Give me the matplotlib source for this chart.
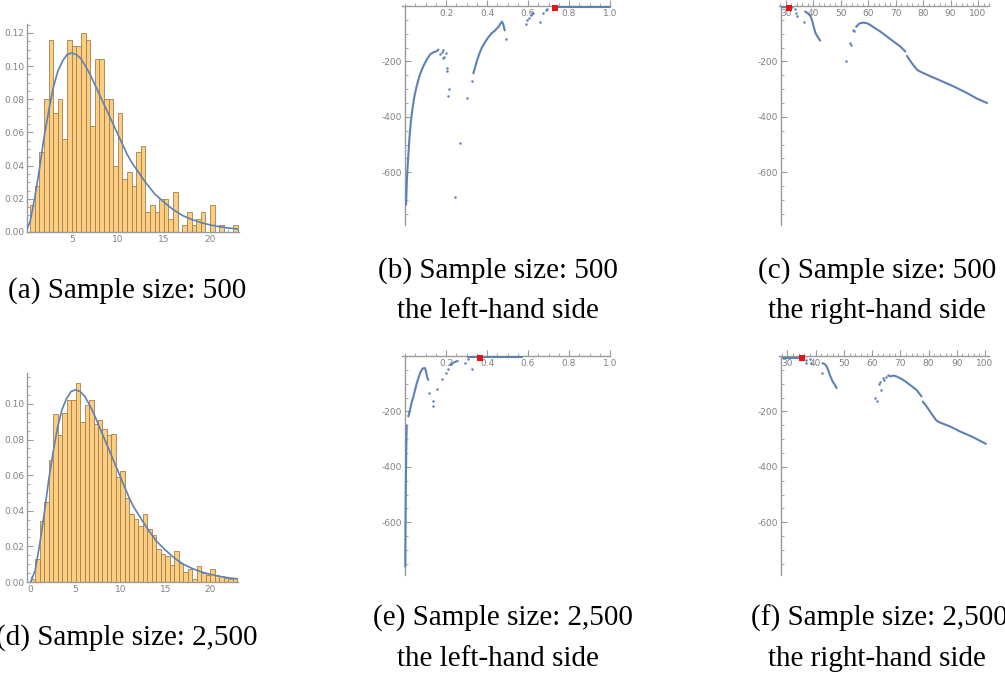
import matplotlib
matplotlib.use("Agg")
import matplotlib.pyplot as plt
from matplotlib.ticker import MultipleLocator

# Histogram densities, bins of width 0.5
bin_width = 0.5
hist500_start = 0.5
hist500 = [0.016, 0.028, 0.048, 0.080, 0.116, 0.072, 0.080, 0.056, 0.116, 0.112,
           0.112, 0.120, 0.116, 0.064, 0.104, 0.104, 0.080, 0.080, 0.040, 0.072,
           0.032, 0.036, 0.028, 0.048, 0.052, 0.012, 0.016, 0.012, 0.020, 0.020,
           0.008, 0.024, 0.000, 0.004, 0.012, 0.004, 0.008, 0.012, 0.000, 0.016,
           0.000, 0.004, 0.000, 0.000, 0.004]
hist2500_start = 0.0
hist2500 = [0.0016, 0.0128, 0.0344, 0.0448, 0.0688, 0.0944, 0.0824, 0.0952, 0.1024, 0.1024,
            0.1120, 0.0896, 0.0992, 0.1020, 0.0888, 0.0910, 0.0860, 0.0824, 0.0830, 0.0592,
            0.0624, 0.0472, 0.0384, 0.0356, 0.0316, 0.0384, 0.0296, 0.0264, 0.0184, 0.0160,
            0.0144, 0.0096, 0.0176, 0.0104, 0.0056, 0.0072, 0.0016, 0.0088, 0.0048, 0.0040,
            0.0072, 0.0040, 0.0032, 0.0024, 0.0016, 0.0024, 0.0024]

# fitted density
pdf_x = [0, 0.5, 1, 1.5, 2, 2.5, 3, 3.5, 4, 4.5, 5, 5.5, 6, 6.5, 7, 7.5, 8, 8.5,
         9, 9.5, 10, 10.5, 11, 11.5, 12, 13, 14, 15, 16, 17, 18, 19, 20, 21, 22, 23]
pdf_y = [0, 0.0065, 0.021, 0.038, 0.057, 0.073, 0.087, 0.097, 0.103, 0.107, 0.108,
         0.107, 0.1045, 0.100, 0.095, 0.089, 0.083, 0.077, 0.071, 0.065, 0.059, 0.053,
         0.047, 0.042, 0.038, 0.030, 0.023, 0.018, 0.0135, 0.010, 0.0076, 0.0057,
         0.0043, 0.0032, 0.0024, 0.0018]

# log-likelihood profiles: dense arcs, isolated points, maximiser
lhs500_arcs = [
    [(0.005, -716), (0.008, -645), (0.011, -597), (0.016, -538), (0.021, -478),
     (0.028, -419), (0.036, -371), (0.046, -324), (0.057, -288), (0.073, -246),
     (0.089, -217), (0.106, -193), (0.122, -175), (0.138, -167), (0.154, -163),
     (0.163, -157)],
    [(0.333, -243), (0.341, -223), (0.350, -199), (0.361, -175), (0.374, -151),
     (0.390, -131), (0.407, -112), (0.423, -98), (0.439, -88), (0.455, -76),
     (0.467, -62), (0.473, -56), (0.480, -68), (0.486, -88)],
    [(0.725, -3), (1.0, -3)],
]
lhs500_dots = [(0.171, -173), (0.179, -167), (0.184, -157), (0.187, -188), (0.192, -183),
               (0.198, -171), (0.203, -223), (0.203, -234), (0.211, -324), (0.215, -300),
               (0.244, -689), (0.268, -494), (0.304, -332), (0.325, -270), (0.493, -118),
               (0.589, -64), (0.593, -52), (0.603, -44), (0.613, -32), (0.620, -26),
               (0.626, -24), (0.659, -56), (0.675, -24), (0.686, -14), (0.691, -12),
               (0.720, -2)]
lhs500_best = (0.732, -7)

rhs500_arcs = [
    [(28.6, -4), (32.5, -6)],
    [(37.0, -20), (37.7, -24), (38.3, -29), (38.9, -36), (39.5, -50), (40.1, -74),
     (40.7, -95), (41.3, -107), (41.9, -116), (42.5, -125)],
    [(56.5, -65), (57.1, -62), (58.3, -60), (59.5, -62), (60.7, -68), (62.0, -77),
     (64.4, -92), (66.8, -110), (69.2, -128), (71.7, -146), (73.5, -164)],
    [(74.1, -180), (75.3, -198), (76.5, -214), (77.8, -230), (79.0, -237), (81.4, -248),
     (86.3, -269), (91.1, -290), (96.0, -314), (99.6, -334), (103.3, -350)],
]
rhs500_dots = [(33.2, -12), (33.6, -26), (34.0, -36), (36.7, -56), (52.0, -200),
               (53.2, -132), (53.7, -140), (54.3, -86), (54.7, -90), (55.5, -71),
               (55.9, -68)]
rhs500_best = (31.0, -9)

lhs2500_arcs = [
    [(0.001, -760), (0.002, -620), (0.004, -450), (0.006, -330), (0.008, -250)],
    [(0.016, -218), (0.024, -194), (0.033, -164), (0.041, -146), (0.049, -122),
     (0.057, -98), (0.065, -80), (0.073, -62), (0.081, -50), (0.089, -44),
     (0.098, -44), (0.102, -56), (0.109, -80), (0.114, -86)],
    [(0.223, -32), (0.236, -24), (0.249, -20), (0.257, -18)],
    [(0.305, -5), (0.570, -5)],
]
lhs2500_dots = [(0.119, -134), (0.135, -182), (0.138, -164), (0.158, -120), (0.182, -82),
                (0.200, -62), (0.211, -48), (0.293, -26), (0.309, -10), (0.325, -48),
                (0.350, -5)]
lhs2500_best = (0.366, -7)

rhs2500_arcs = [
    [(28.5, -9), (35.6, -9)],
    [(42.4, -26), (43.2, -29), (43.8, -36), (44.4, -50), (45.0, -68), (46.0, -92),
     (46.8, -104), (47.4, -116)],
    [(66.3, -74), (66.9, -72), (67.7, -71), (68.7, -74), (71.0, -86), (73.4, -104),
     (75.7, -122), (77.5, -146)],
    [(77.9, -164), (79.3, -182), (81.1, -209), (82.8, -233), (84.0, -240), (87.6, -254),
     (91.1, -272), (95.8, -293), (100.3, -317)],
]
rhs2500_dots = [(36.4, -14), (36.7, -24), (37.9, -12), (38.3, -26), (42.1, -62),
                (61.0, -152), (61.8, -164), (62.5, -102), (62.7, -92), (63.3, -122),
                (63.7, -80), (64.2, -86), (64.9, -74), (65.7, -68)]
rhs2500_best = (35.3, -8)

# tick positions
hist_yticks_500 = [0.00, 0.02, 0.04, 0.06, 0.08, 0.10, 0.12]
hist_yticks_2500 = [0.00, 0.02, 0.04, 0.06, 0.08, 0.10]
hist_xticks_500 = [5, 10, 15, 20]
hist_xticks_2500 = [0, 5, 10, 15, 20]
lhs_xticks = [0.2, 0.4, 0.6, 0.8, 1.0]
rhs_xticks = [30, 40, 50, 60, 70, 80, 90, 100]
loglik_yticks = [-200, -400, -600]

captions = [
    (127, 291, "(a) Sample size: 500"),
    (498, 271, "(b) Sample size: 500"),
    (498, 311, "the left-hand side"),
    (877, 271, "(c) Sample size: 500"),
    (877, 311, "the right-hand side"),
    (127, 638, "(d) Sample size: 2,500"),
    (503, 618, "(e) Sample size: 2,500"),
    (498, 659, "the left-hand side"),
    (879, 618, "(f) Sample size: 2,500"),
    (877, 659, "the right-hand side"),
]

W, H = 1005, 678
BLUE = "#5e81b5"
BAR_FACE = "#fdcd80"
BAR_EDGE = "#a08050"
AXIS_GRAY = "#9a9a9a"
LABEL_GRAY = "#808080"

plt.rcParams['axes.unicode_minus'] = False
plt.rcParams['font.family'] = ['Liberation Sans Narrow', 'DejaVu Sans']

fig = plt.figure(figsize=(W / 100, H / 100), dpi=100)


def px_axes(left, top, right, bottom):
    return fig.add_axes([left / W, 1 - bottom / H, (right - left) / W, (bottom - top) / H])


def style_axes(ax):
    ax.spines['top'].set_visible(False)
    ax.spines['right'].set_visible(False)
    for side in ['left', 'bottom']:
        ax.spines[side].set_color(AXIS_GRAY)
        ax.spines[side].set_linewidth(1.0)
    ax.tick_params(which='both', direction='in', color=AXIS_GRAY,
                   labelcolor=LABEL_GRAY, labelsize=6.5, pad=2)
    ax.tick_params(which='major', length=4, width=0.8)
    ax.tick_params(which='minor', length=2, width=0.6)
    ax.patch.set_alpha(0)


def histogram_panel(box, xlim, ylim, start, dens, xticks, yticks):
    ax = px_axes(*box)
    lefts = [start + i * bin_width for i in range(len(dens))]
    ax.bar(lefts, dens, width=bin_width, align='edge', color=BAR_FACE,
           edgecolor=BAR_EDGE, linewidth=0.6, zorder=2)
    ax.plot(pdf_x, pdf_y, color=BLUE, lw=1.2, zorder=3)
    ax.set_xlim(*xlim)
    ax.set_ylim(*ylim)
    style_axes(ax)
    ax.set_xticks(xticks)
    ax.set_xticklabels([str(t) for t in xticks])
    ax.set_yticks(yticks)
    ax.set_yticklabels(["%.2f" % t for t in yticks])
    ax.xaxis.set_minor_locator(MultipleLocator(1))
    ax.yaxis.set_minor_locator(MultipleLocator(0.005))
    return ax


def profile_panel(box, xlim, yspine, arcs, dots, best, xticks, xlabels, xminor):
    ax = px_axes(*box)
    for arc in arcs:
        xs = [p[0] for p in arc]
        ys = [p[1] for p in arc]
        ax.plot(xs, ys, color=BLUE, lw=1.5, solid_capstyle='round',
                clip_on=False, zorder=3)
    ax.plot([p[0] for p in dots], [p[1] for p in dots], 'o', color=BLUE,
            ms=1.8, mew=0, clip_on=False, zorder=3)
    ax.plot([best[0]], [best[1]], 's', color='#ee1111', ms=4, mew=0,
            clip_on=False, zorder=4)
    ax.set_xlim(*xlim)
    ax.set_ylim(-790, 0)
    style_axes(ax)
    ax.spines['left'].set_position(('data', yspine))
    ax.spines['bottom'].set_position(('data', 0))
    ax.set_xticks(xticks)
    ax.set_xticklabels(xlabels)
    ax.set_yticks(loglik_yticks)
    ax.set_yticklabels([str(t) for t in loglik_yticks])
    ax.xaxis.set_minor_locator(MultipleLocator(xminor))
    ax.yaxis.set_minor_locator(MultipleLocator(50))
    return ax


histogram_panel((27, 24, 239, 232), (0.15, 23.15), (0, 0.1254),
                hist500_start, hist500, hist_xticks_500, hist_yticks_500)
histogram_panel((27, 373, 238, 582), (-0.41, 23.1), (0, 0.1174),
                hist2500_start, hist2500, hist_xticks_2500, hist_yticks_2500)

lhs_labels = ["%.1f" % t for t in lhs_xticks]
rhs_labels = [str(t) for t in rhs_xticks]
profile_panel((402, 6, 610, 225), (-0.015, 1.0), 0, lhs500_arcs, lhs500_dots,
              lhs500_best, lhs_xticks, lhs_labels, 0.05)
profile_panel((779, 6, 989, 225), (27.5, 104.0), 28.1, rhs500_arcs, rhs500_dots,
              rhs500_best, rhs_xticks, rhs_labels, 2)
profile_panel((402, 356, 610, 575), (-0.015, 1.0), 0, lhs2500_arcs, lhs2500_dots,
              lhs2500_best, lhs_xticks, lhs_labels, 0.05)
profile_panel((779, 356, 989, 575), (27.0, 101.4), 27.6, rhs2500_arcs, rhs2500_dots,
              rhs2500_best, rhs_xticks, rhs_labels, 2)

for cx, cy, text in captions:
    fig.text(cx / W, 1 - cy / H, text, ha='center', va='center',
             family='Liberation Serif', fontsize=21)

fig.savefig("out.png", dpi=100)
